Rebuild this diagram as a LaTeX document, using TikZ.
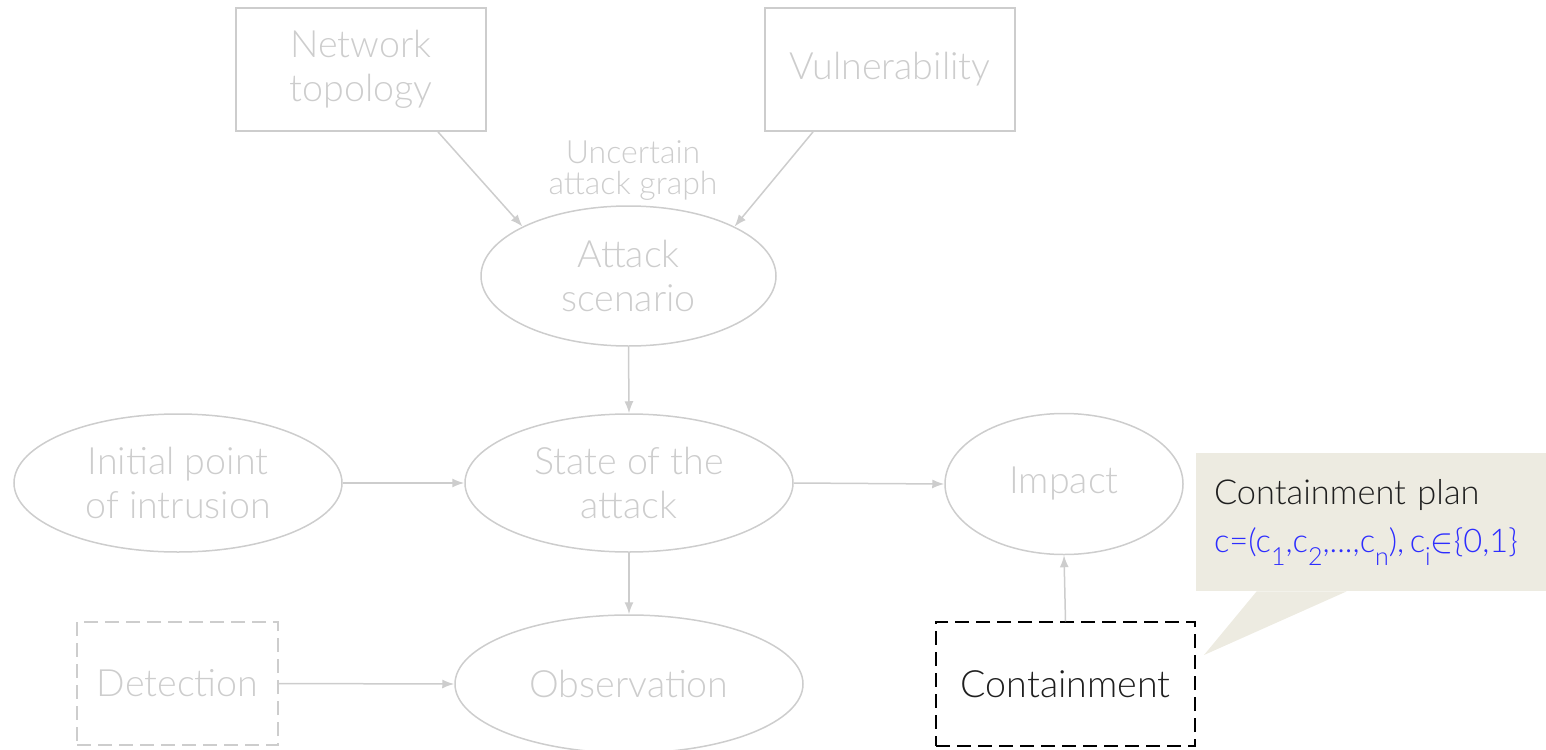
\documentclass[tikz,border=0pt]{standalone}
\usepackage{fontspec}
\setmainfont{Lato Light}
\usepackage{xcolor}
\usetikzlibrary{shapes,arrows.meta,positioning,calc}

\definecolor{fadegray}{RGB}{205,205,205}
\definecolor{planbg}{RGB}{237,235,225}
\definecolor{planblue}{RGB}{45,45,255}
\newcommand{\csub}[1]{\raisebox{-0.8ex}{\fontsize{12.5}{12.5}\selectfont #1}}

\begin{document}
\begin{tikzpicture}[
      x=0.5pt, y=-0.5pt,
      box/.style={rectangle, draw=fadegray, line width=0.75pt, align=center, inner sep=0pt,
        text=fadegray, font=\fontsize{18.8}{22}\selectfont},
      oval/.style={ellipse, draw=fadegray, line width=0.75pt, align=center, inner sep=0pt,
        text=fadegray, font=\fontsize{18.8}{22}\selectfont},
      dbox/.style={box, dash pattern=on 7pt off 3.5pt},
      arrow/.style={-{Latex[length=6pt,width=4.5pt]}, draw=fadegray, line width=0.75pt}
    ]
    \useasboundingbox (0,0) rectangle (1546,749);

    % ============ CAUSES ============
    \node[box, minimum width=125pt, minimum height=61.5pt] (net) at (361,69.5) {Network\\topology};
    \node[box, minimum width=125pt, minimum height=61.5pt] (vul) at (890,69.5) {Vulnerability};
    \node[text=fadegray, align=center, font=\fontsize{16}{15.5}\selectfont] (uag) at (633,171) {Uncertain\\attack graph};

    % Attack scenario
    \node[oval, minimum width=147.5pt, minimum height=70pt] (scen) at (628.5,276) {Attack\\scenario};

    \draw[arrow] (net.-39) -- (scen.155);
    \draw[arrow] (vul.-141) -- (scen.25);

    % ============ ATTACK STATE ============
    \node[oval, minimum width=164pt, minimum height=69pt] (state) at (629,483) {State of the\\attack};
    \node[oval, minimum width=164pt, minimum height=69pt] (init) at (178,483) {Initial point\\of intrusion};
    \node[oval, minimum width=119pt, minimum height=70.5pt] (impact) at (1064,484) {Impact};

    \draw[arrow] (scen.south) -- (state.north);
    \draw[arrow] (init.east) -- (state.west);
    \draw[arrow] (state.east) -- (impact.west);

    % ============ OBSERVATION ============
    \node[oval, minimum width=174pt, minimum height=69pt] (obs) at (629,684) {Observation};
    \node[dbox, minimum width=100.5pt, minimum height=61.5pt] (det) at (177.5,683.5) {Detection};

    \draw[arrow] (state.south) -- (obs.north);
    \draw[arrow] (det.east) -- (obs.west);

    % ============ CONTAINMENT ============
    \node[dbox, draw=black, text=black!88, minimum width=129.5pt, minimum height=62pt] (cont) at (1065.5,684) {Containment};

    \draw[arrow] (cont.north) -- (impact.south);

    % Callout
    \node[rectangle, fill=planbg, minimum width=175pt, minimum height=69pt, text width=157pt,
      align=left, inner sep=0pt, text=black!88, font=\fontsize{17.2}{24}\selectfont] (plan) at (1371,522)
      {Containment plan\\
       \mbox{\fontsize{16.3}{24}\selectfont\color{planblue}c=(c\csub{1},c\csub{2},...,c\csub{n}),\,c\csub{i}$\in$\{0,1\}}};
    \coordinate (tip) at (1204,655);
    \fill[planbg] ($(plan.south west)+(61,0)$) -- (tip) -- ($(plan.south west)+(151,0)$) -- cycle;

  \end{tikzpicture}
\end{document}
